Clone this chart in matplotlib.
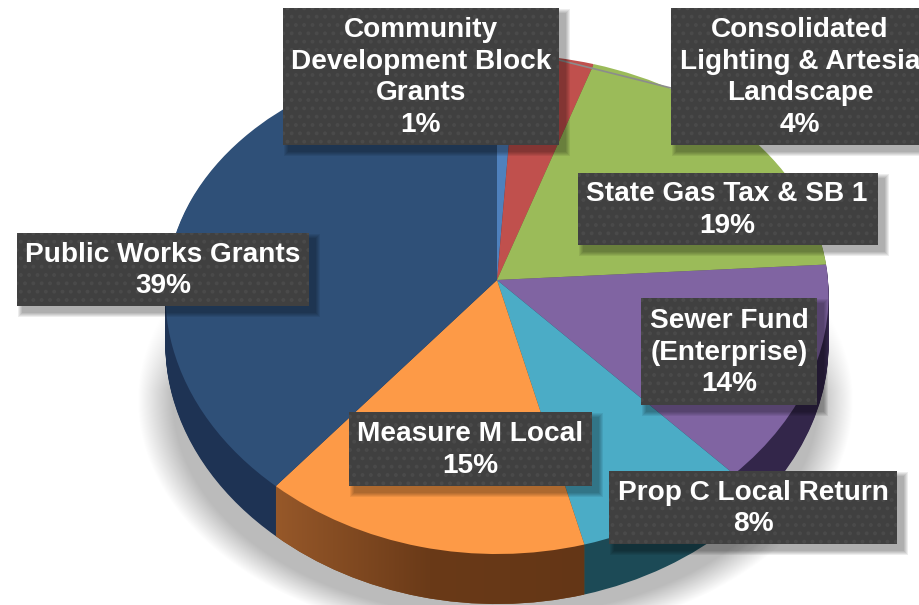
import numpy as np
import matplotlib
matplotlib.use("Agg")
import matplotlib.pyplot as plt
from matplotlib.patches import Rectangle
from matplotlib.path import Path
from matplotlib.transforms import Transform

# slices, clockwise from 12 o'clock
categories = [
    "Community\nDevelopment Block\nGrants",
    "Consolidated\nLighting & Artesia\nLandscape",
    "State Gas Tax & SB 1",
    "Sewer Fund\n(Enterprise)",
    "Prop C Local Return",
    "Measure M Local",
    "Public Works Grants",
]
shares = [1, 4, 19, 14, 8, 15, 39]
top_colors = ["#4f81bd", "#c0504d", "#9bbb59", "#8064a2", "#4bacc6", "#fd9a47", "#2f5078"]
wall_colors = ["#2a4a70", "#6e2c2a", "#5a6e32", "#33264a", "#1c4a56", "#7a4a20", "#1e3354"]

# label boxes in pixels: left, top, right, bottom
boxes = [
    (283, 8, 559, 145),
    (671, 8, 925, 145),
    (578, 173, 878, 245),
    (641, 298, 817, 405),
    (609, 471, 897, 544),
    (349, 412, 592, 486),
    (17, 233, 309, 306),
]
label_x = [421, 800, 727, 729, 753, 470, 163]

DEPTH = 50


class Tilt(Transform):
    """Perspective view of the unit disc, result in pixels."""
    input_dims = 2
    output_dims = 2

    def __init__(self, dy=0):
        super().__init__()
        self.dy = dy

    def transform_non_affine(self, values):
        values = np.asarray(values, dtype=float)
        x = 497 + 331 * values[:, 0] / (1 + 0.06 * values[:, 1])
        y = 280 + self.dy - 247.7 * values[:, 1] / (1 + 0.096 * values[:, 1])
        return np.column_stack([x, y])


def draw_pie(ax, colors, dy, zorder):
    wedges, _ = ax.pie(shares, colors=colors, startangle=90, counterclock=False)
    for w in wedges:
        w.set_transform(Tilt(dy) + ax.transData)
        w.set_linewidth(0)
        w.set_zorder(zorder)
    return wedges


plt.rcParams["font.family"] = ["Liberation Sans", "DejaVu Sans"]
plt.rcParams["hatch.linewidth"] = 1.6

fig = plt.figure(figsize=(9.2, 6.05), dpi=100)
ax = fig.add_axes([0, 0, 1, 1])

# soft floor shadow
yy, xx = np.mgrid[0:605, 0:920]
d = np.sqrt(((xx - 495) / 358) ** 2 + ((yy - 400) / 240) ** 2)
fade = np.clip((1 - d) / 0.1, 0, 1) * np.clip((yy - 280) / 110, 0, 1)
rgba = np.zeros((605, 920, 4))
rgba[..., 3] = 0.27 * fade
ax.imshow(rgba, extent=(0, 920, 605, 0), aspect="auto", zorder=1)

# side wall: stacked copies of the pie, deepest first
wall_paths = []
for dy in range(DEPTH, 0, -1):
    wedges = draw_pie(ax, wall_colors, dy, 2)
    wall_paths.append(Tilt(dy).transform_path(wedges[5].get_path()))

draw_pie(ax, top_colors, 0, 4)

ax.set_aspect("auto")
ax.set_xlim(0, 920)
ax.set_ylim(605, 0)
ax.axis("off")

# orange wall goes darker to the right
gradient = np.linspace(0, 1, 320)[None, :]
cmap = matplotlib.colors.LinearSegmentedColormap.from_list("wall", ["#98592a", "#6a3a18", "#643616"])
img = ax.imshow(gradient, extent=(270, 590, 605, 480), aspect="auto", cmap=cmap, zorder=3)
img.set_clip_path(Path.make_compound_path(*wall_paths), ax.transData)
ax.set_xlim(0, 920)
ax.set_ylim(605, 0)

# leader line along the top of the green slice
ax.plot([559, 671], [60, 88], color="#8c8c8c", lw=1.2, zorder=5)

for name, share, box, x in zip(categories, shares, boxes, label_x):
    left, top, right, bottom = box
    for grow in range(5, 0, -1):
        ax.add_patch(Rectangle((left + 6 - grow, top + 6 - grow), right - left + 2 * grow,
                               bottom - top + 2 * grow, fc="black", alpha=0.07, lw=0, zorder=6))
    ax.add_patch(Rectangle((left, top), right - left, bottom - top, fc="#404040",
                           ec="#4a4a4a", hatch="..", lw=0, zorder=7))
    ax.text(x, (top + bottom) / 2 + 1, f"{name}\n{share}%", color="white", fontsize=20.2,
            fontweight="bold", ha="center", va="center", linespacing=1.28, zorder=8)

fig.savefig("out.png", dpi=100)
plt.close(fig)
